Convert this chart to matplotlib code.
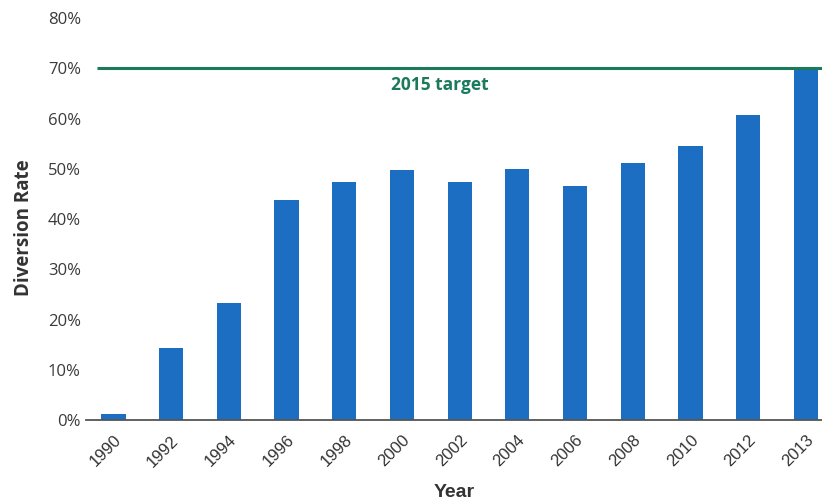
import matplotlib.pyplot as plt
import matplotlib.transforms as mtransforms
import numpy as np

# --- data ---
YEARS = ['1990', '1992', '1994', '1996', '1998', '2000', '2002',
         '2004', '2006', '2008', '2010', '2012', '2013']
RATES = [1.2, 14.3, 23.3, 43.8, 47.4, 49.8, 47.4, 50.0, 46.6, 51.1, 54.5, 60.7, 69.7]
TARGET = 70
TARGET_LABEL = '2015 target'
Y_TICKS = [0, 10, 20, 30, 40, 50, 60, 70, 80]

BAR_COLOR = '#1b6ec2'
TARGET_COLOR = '#1c7a5c'
SANS = ['Liberation Sans', 'DejaVu Sans']

plt.rcParams['font.family'] = ['Open Sans', 'DejaVu Sans']

fig = plt.figure(figsize=(8.22, 4.99), dpi=100)
ax = fig.add_axes([0.105, 0.158, 0.895, 0.806])

x = np.arange(len(YEARS))
ax.bar(x, RATES, width=0.42, color=BAR_COLOR, zorder=2)

# target line
ax.plot([-0.29, 12.3], [TARGET, TARGET], color=TARGET_COLOR, lw=2.2, zorder=3,
        solid_capstyle='butt')
ax.text(5.66, 66.6, TARGET_LABEL, color=TARGET_COLOR, fontsize=12.5,
        fontweight='bold', ha='center', va='center')

ax.set_xlim(-0.47, 12.28)
ax.set_ylim(0, 80)
ax.set_yticks(Y_TICKS)
ax.set_yticklabels([f'{v}%' for v in Y_TICKS], fontsize=12, color='#3a3a3a')
ax.set_xticks(x)
ax.set_xticklabels(YEARS, rotation=45, ha='right', rotation_mode='anchor',
                   fontsize=12, color='#333333', family=SANS)
shift = mtransforms.ScaledTranslation(8 / 100, -2 / 100, fig.dpi_scale_trans)
for lbl in ax.get_xticklabels():
    lbl.set_transform(lbl.get_transform() + shift)
ax.tick_params(axis='y', length=0, pad=4)
ax.tick_params(axis='x', length=0, pad=9)

for s in ['top', 'right', 'left']:
    ax.spines[s].set_visible(False)
ax.spines['bottom'].set_color('#555555')
ax.spines['bottom'].set_linewidth(1.3)

ax.set_ylabel('Diversion Rate', fontsize=13.5, fontweight='bold', color='#333333')
ax.yaxis.set_label_coords(-0.071, 0.478)
ax.set_xlabel('Year', fontsize=14, fontweight='bold', color='#333333', labelpad=10,
              family=SANS)

fig.savefig('out.png', dpi=100)
